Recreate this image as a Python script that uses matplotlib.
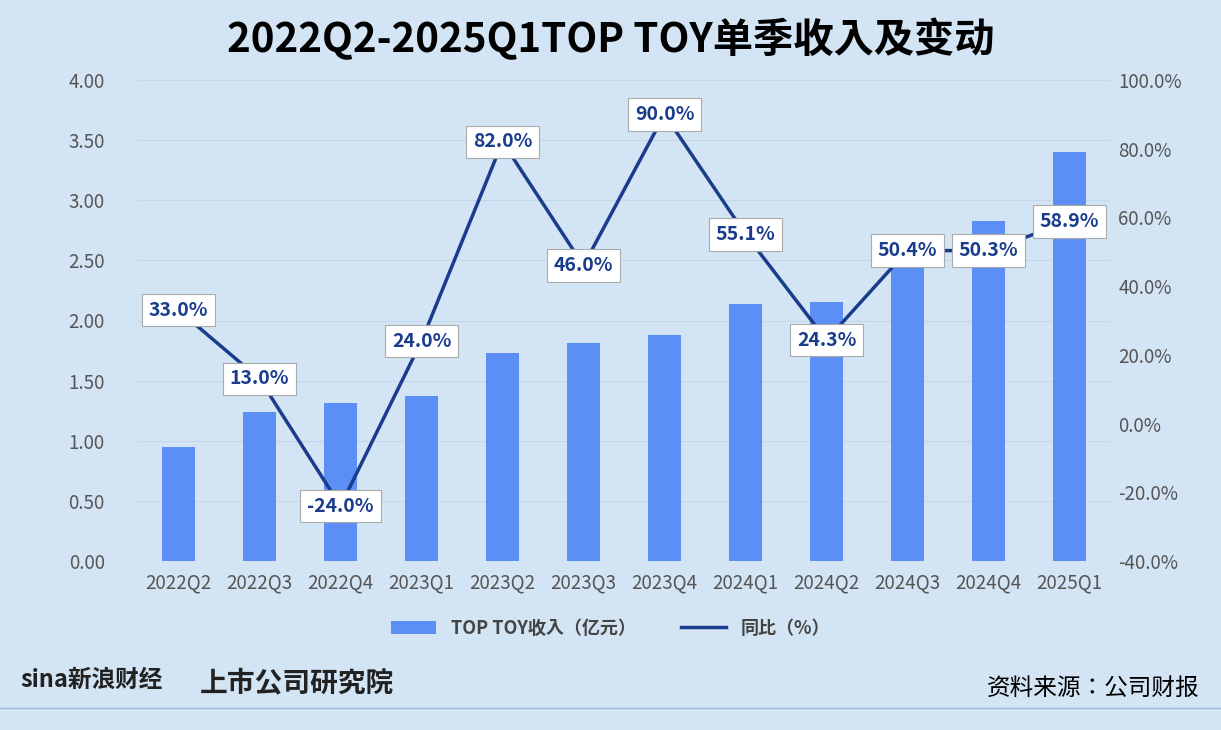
import matplotlib.pyplot as plt
import numpy as np
from matplotlib import font_manager

names = {f.name for f in font_manager.fontManager.ttflist}
cjk = [n for n in ['Noto Sans CJK SC', 'Noto Sans CJK JP', 'Noto Sans CJK TC', 'Noto Sans CJK KR'] if n in names]
plt.rcParams['font.family'] = ['sans-serif']
plt.rcParams['font.sans-serif'] = cjk + ['DejaVu Sans']

quarters = ['2022Q2', '2022Q3', '2022Q4', '2023Q1', '2023Q2', '2023Q3', '2023Q4',
            '2024Q1', '2024Q2', '2024Q3', '2024Q4', '2025Q1']
revenue = [0.95, 1.24, 1.31, 1.37, 1.73, 1.81, 1.88, 2.14, 2.15, 2.48, 2.83, 3.40]
yoy = [33.0, 13.0, -24.0, 24.0, 82.0, 46.0, 90.0, 55.1, 24.3, 50.4, 50.3, 58.9]

bg = '#d3e5f4'
fig = plt.figure(figsize=(12.21, 7.30), dpi=100, facecolor=bg)
ax = fig.add_axes([138 / 1221, 1 - 561 / 730, 972 / 1221, 481 / 730], facecolor=bg)
x = np.arange(len(quarters))
ax.bar(x, revenue, width=0.4, color='#5b8ff5', label='TOP TOY收入（亿元）', zorder=2)
ax.set_ylim(0, 4)
ax.set_yticks(np.arange(0, 4.01, 0.5))
ax.set_yticklabels([f'{v:.2f}' for v in np.arange(0, 4.01, 0.5)])
ax.set_xlim(-0.5, len(quarters) - 0.5)
ax.set_xticks(x)
ax.set_xticklabels(quarters)
ax.grid(axis='y', color='#c4d7e8', lw=0.8, zorder=0)
for s in ax.spines.values():
    s.set_visible(False)
ax.tick_params(length=0, labelsize=13.5, colors='#555555', pad=8)
ax.tick_params(axis='y', pad=24)

ax2 = ax.twinx()
ax2.plot(x, yoy, color='#1a3c8c', lw=2.5, label='同比（%）', zorder=3)
ax2.set_ylim(-40, 100)
ax2.set_yticks(np.arange(-40, 101, 20))
ax2.set_yticklabels([f'{v:.1f}%' for v in np.arange(-40, 101, 20)])
for s in ax2.spines.values():
    s.set_visible(False)
ax2.tick_params(length=0, labelsize=13.5, colors='#555555', pad=6)
for xi, v in zip(x, yoy):
    ax2.text(xi, v, f'{v:.1f}%', ha='center', va='center', fontsize=14, fontweight='bold',
             color='#1a3c8c', zorder=5,
             bbox=dict(boxstyle='square,pad=0.35', fc='white', ec='#aaaaaa', lw=0.8))

h1, l1 = ax.get_legend_handles_labels()
h2, l2 = ax2.get_legend_handles_labels()
fig.legend(h1 + h2, l1 + l2, loc='center', bbox_to_anchor=(0.5, 1 - 628 / 730), ncol=2,
           frameon=False, fontsize=13, labelcolor='#444444', columnspacing=2.5, handlelength=2.5,
           prop={'weight': 'bold', 'size': 13})

fig.text(0.5, 1 - 40 / 730, '2022Q2-2025Q1TOP TOY单季收入及变动', ha='center', va='center',
         fontsize=29, fontweight='bold', color='black')
fig.text(20 / 1221, 1 - 680 / 730, 'sina新浪财经', ha='left', va='center', fontsize=17,
         fontweight='bold', color='#222222', style='italic')
fig.text(200 / 1221, 1 - 683 / 730, '上市公司研究院', ha='left', va='center', fontsize=20,
         fontweight='bold', color='#222222', style='italic')
fig.text(1200 / 1221, 1 - 688 / 730, '资料来源：公司财报', ha='right', va='center', fontsize=17,
         color='black')
fig.add_artist(plt.Line2D([0, 1], [1 - 708 / 730] * 2, color='#9ab8d8', lw=1))

fig.savefig('out.png', facecolor=bg)
